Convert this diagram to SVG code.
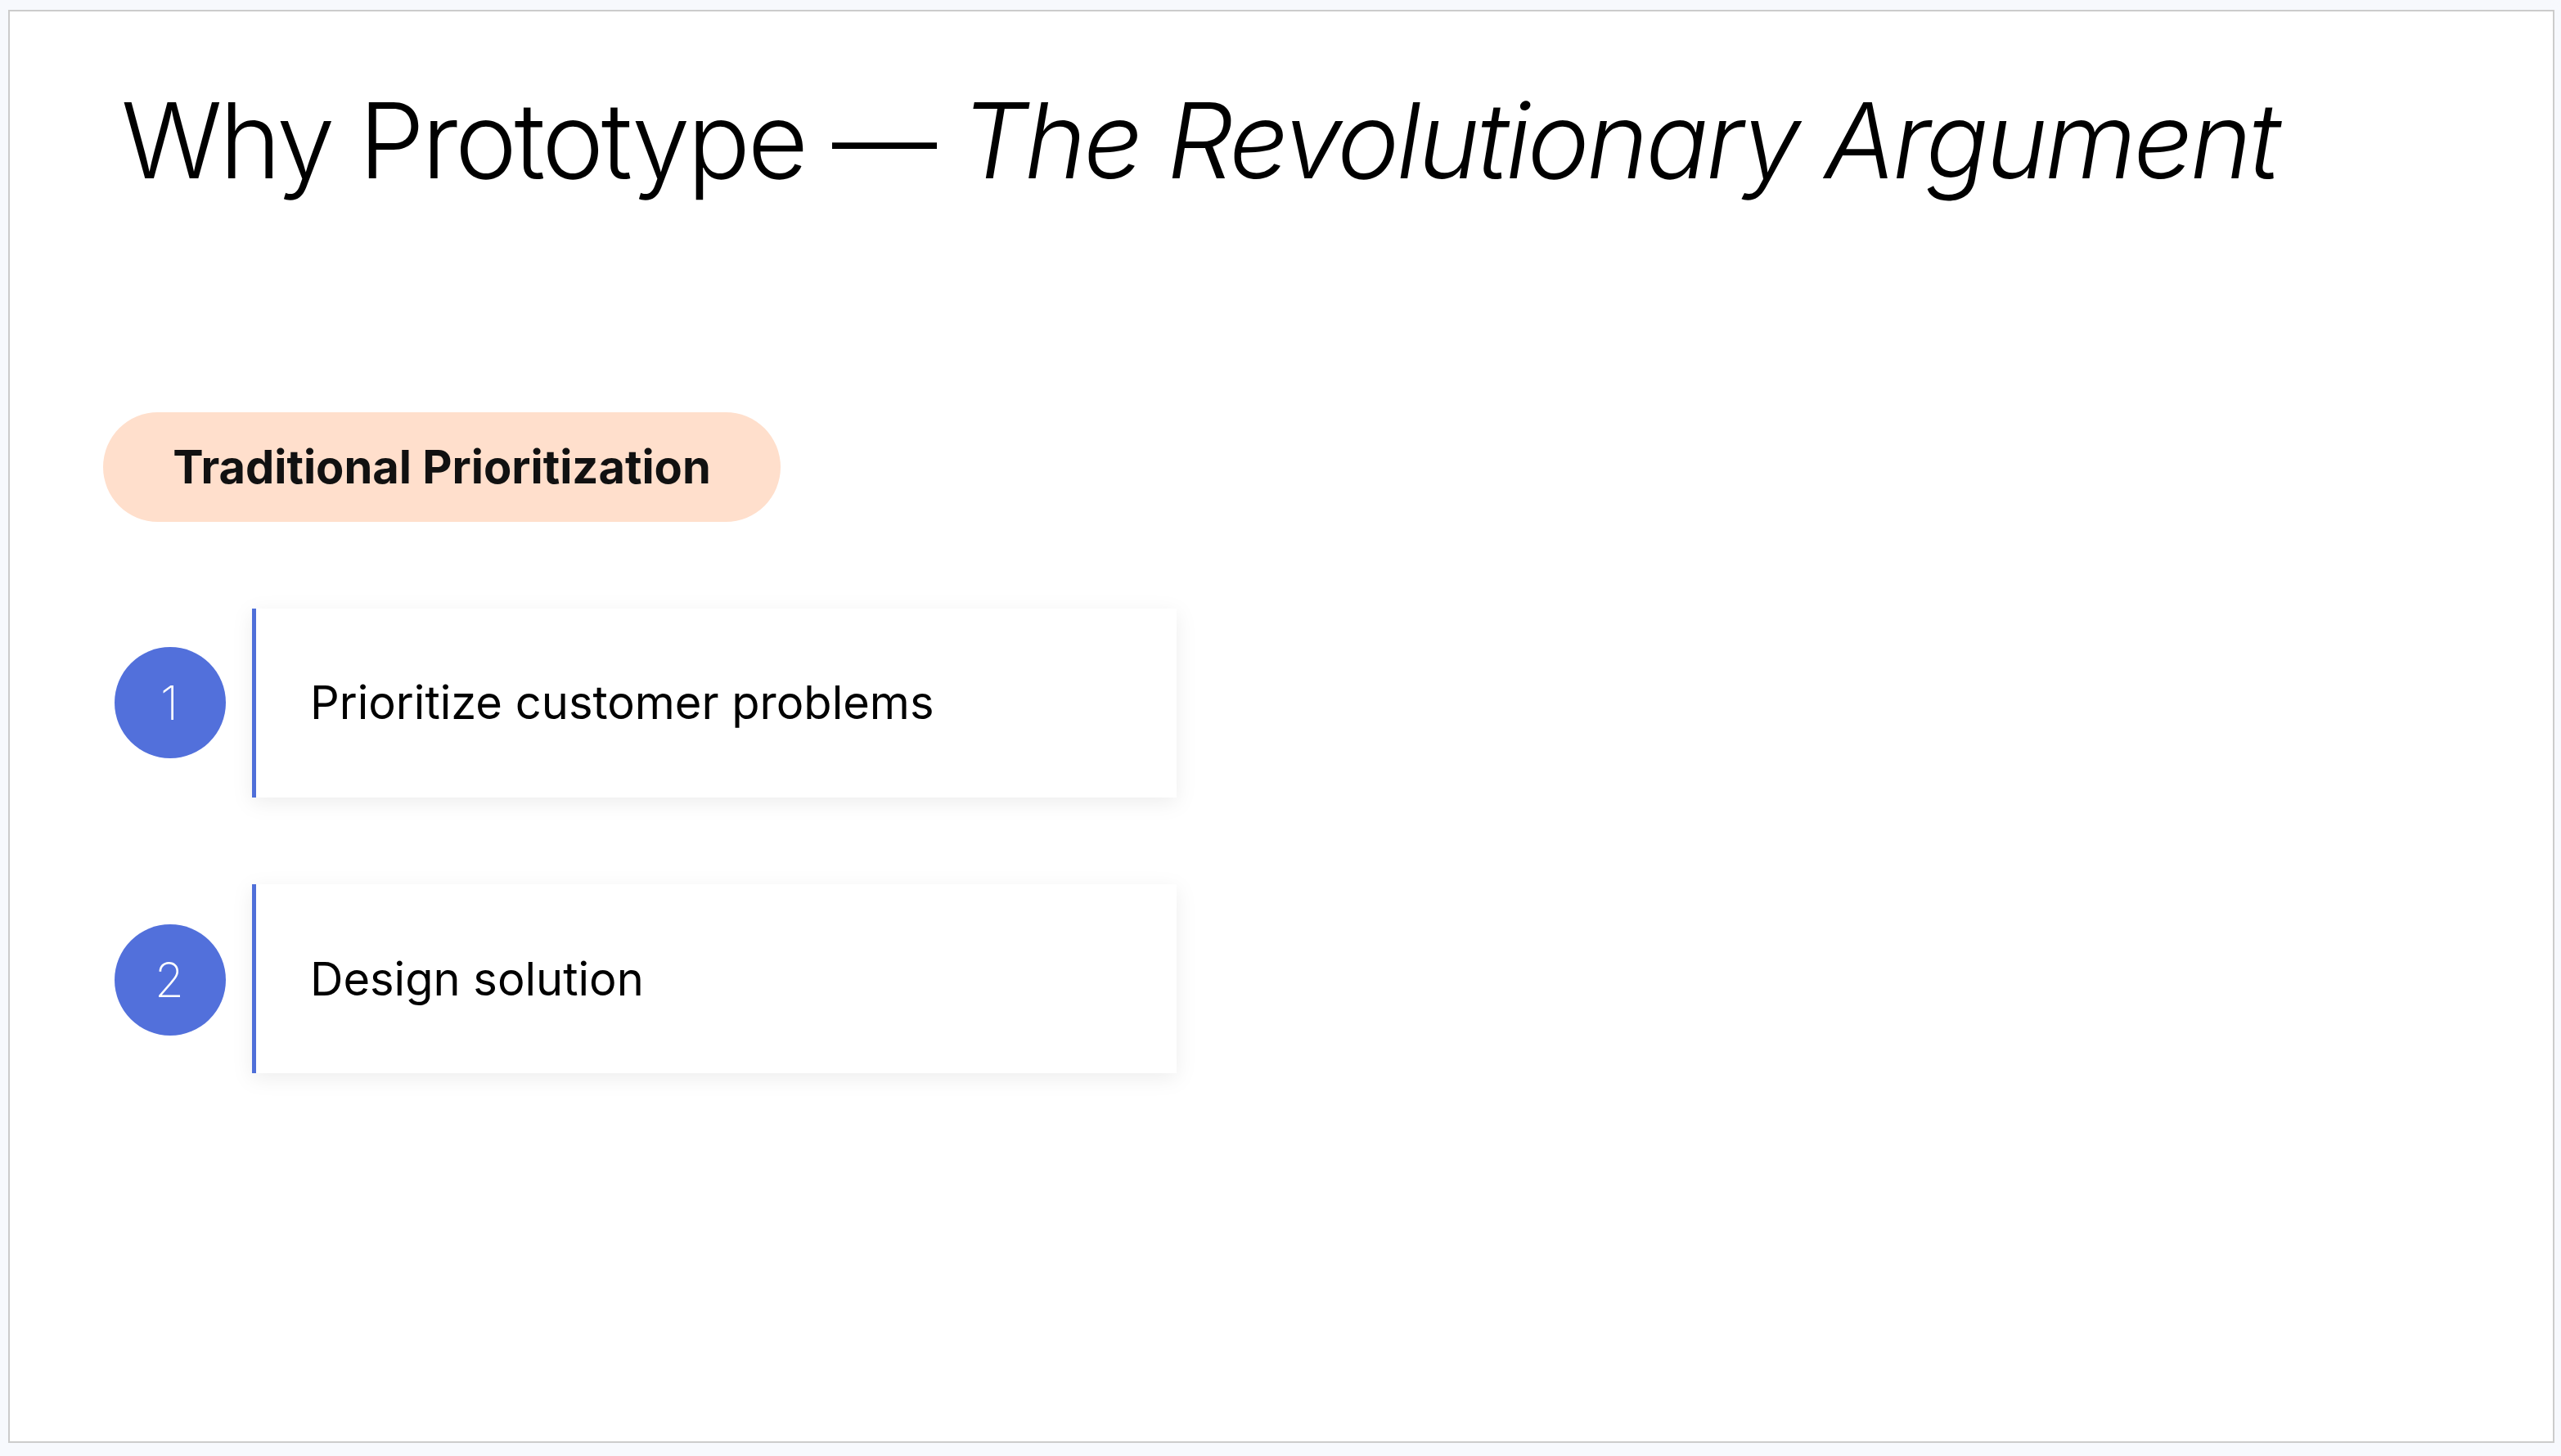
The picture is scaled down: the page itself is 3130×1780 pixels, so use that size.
<svg xmlns="http://www.w3.org/2000/svg" width="3130" height="1780" viewBox="0 0 3130 1780">
  <defs>
    <filter id="shadow" x="-10%" y="-30%" width="120%" height="160%">
      <feDropShadow dx="0" dy="6" stdDeviation="12" flood-color="#000000" flood-opacity="0.07"/>
    </filter>
    <style>
      .title { font-family: Inter, "Liberation Sans", sans-serif; font-size: 128px; fill: #000000; font-weight: 300; letter-spacing: -3.4px; }
      .pill { fill: #ffdfcc; }
      .pilltext { font-family: Inter, "Liberation Sans", sans-serif; font-size: 56px; font-weight: 700; fill: #111111; }
      .card { fill: #ffffff; filter: url(#shadow); }
      .bar { fill: #4f6fd9; }
      .num { fill: #5270db; }
      .numtext { font-family: Inter, "Liberation Sans", sans-serif; font-size: 58px; font-weight: 200; fill: #ffffff; }
      .cardtext { font-family: Inter, "Liberation Sans", sans-serif; font-size: 56px; font-weight: 400; fill: #000000; }
    </style>
  </defs>
  <rect x="0" y="0" width="3130" height="1780" fill="#f7f9fd"/>
  <rect x="11" y="13" width="3110" height="1750" fill="#ffffff" stroke="#cccccc" stroke-width="2"/>
  <g id="title">
    <text class="title" x="148" y="218">Why Prototype — <tspan font-style="italic">The Revolutionary Argument</tspan></text>
  </g>
  <g id="header">
    <rect class="pill" x="126" y="504" width="828" height="134" rx="67"/>
    <text class="pilltext" x="540" y="591" text-anchor="middle">Traditional Prioritization</text>
  </g>
  <g id="step1">
    <rect class="card" x="308" y="744" width="1130" height="231"/>
    <rect class="bar" x="308" y="744" width="5" height="231"/>
    <circle class="num" cx="208" cy="859" r="68"/>
    <text class="numtext" x="207" y="880" text-anchor="middle">1</text>
    <text class="cardtext" x="379" y="879">Prioritize customer problems</text>
  </g>
  <g id="step2">
    <rect class="card" x="308" y="1081" width="1130" height="231"/>
    <rect class="bar" x="308" y="1081" width="5" height="231"/>
    <circle class="num" cx="208" cy="1198" r="68"/>
    <text class="numtext" x="207" y="1219" text-anchor="middle">2</text>
    <text class="cardtext" x="379" y="1217">Design solution</text>
  </g>
  <g id="connectors"></g>
</svg>
